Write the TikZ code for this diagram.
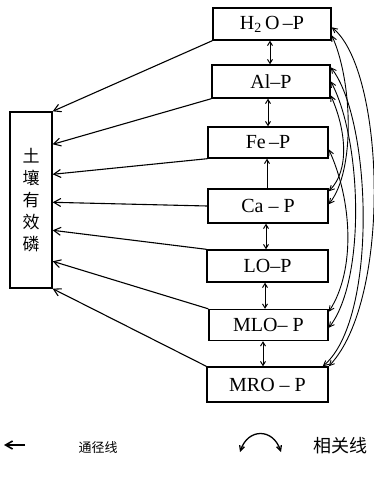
\documentclass[tikz,border=0pt]{standalone}
\usepackage{fontspec}
\newfontfamily\cjk{Noto Sans CJK SC}
\newfontfamily\tnr{Liberation Serif}
\usetikzlibrary{arrows.meta}
\begin{document}
\begin{tikzpicture}[x=1pt,y=-1pt,
  box/.style={draw,line width=1.4pt,inner sep=0pt,font=\tnr\fontsize{20}{22}\selectfont},
  link/.style={line width=1.1pt,-{Straight Barb[length=7pt,width=8pt]}},
  corr/.style={line width=0.9pt,{Straight Barb[length=5pt,width=5pt]}-{Straight Barb[length=5pt,width=5pt]}},
  vlink/.style={line width=1pt,{Straight Barb[length=4pt,width=5pt]}-{Straight Barb[length=4pt,width=5pt]}},
  uplink/.style={line width=1pt,-{Straight Barb[length=4pt,width=5pt]}},
  legend/.style={font=\cjk\fontsize{13}{15}\selectfont}]
\useasboundingbox (0,0) rectangle (373,482);

% right boxes
\node[box,minimum width=118pt,minimum height=32pt] (h) at (272,24) {H\textsubscript{2}\,O\,–P};
\node[box,minimum width=118pt,minimum height=33pt] (a) at (271,81.5) {Al–P};
\node[box,minimum width=120pt,minimum height=31pt] (f) at (268,142.5) {Fe\,–P};
\node[box,minimum width=120pt,minimum height=34pt] (c) at (268,206) {Ca – P};
\node[box,minimum width=121pt,minimum height=32pt] (l) at (267.5,266) {LO–P};
\node[box,minimum width=119pt,minimum height=31pt] (m) at (268.5,325) {MLO– P};
\node[box,minimum width=121pt,minimum height=35pt] (r) at (267.5,384.5) {MRO – P};

% left box
\node[draw,line width=1.4pt,minimum width=42pt,minimum height=176pt,inner sep=0pt,
      align=center,font=\cjk\fontsize{17}{22}\selectfont] (s) at (31,200)
      {土\\壤\\有\\效\\磷};

% path lines
\draw[link] (h.south west) -- (s.north east);
\draw[link] (a.south west) -- ([yshift=-33pt]s.north east);
\draw[link] (f.south west) -- ([yshift=-63pt]s.north east);
\draw[link] (c.west) -- ([yshift=-91pt]s.north east);
\draw[link] (l.north west) -- ([yshift=-119pt]s.north east);
\draw[link] (m.north west) -- ([yshift=-150pt]s.north east);
\draw[link] (r.north west) -- (s.south east);

% vertical links
\draw[vlink] ([xshift=-2pt]h.south) -- ([xshift=-2pt]h.south |- a.north);
\draw[vlink] ([xshift=-3pt]a.south) -- ([xshift=-3pt]a.south |- f.north);
\draw[uplink] ([xshift=-1pt]c.north) -- ([xshift=-1pt]c.north |- f.south);
\draw[vlink] ([xshift=-2pt]c.south) -- ([xshift=-2pt]c.south |- l.north);
\draw[vlink] ([xshift=-2.5pt]l.south) -- ([xshift=-2.5pt]l.south |- m.north);
\draw[vlink] ([xshift=-5.5pt]m.south) -- ([xshift=-5.5pt]m.south |- r.north);

% correlation lines
\draw[corr] ([yshift=-20pt]h.north east) .. controls (385,70) and (392,300) .. (r.north east);
\draw[corr] ([yshift=-28pt]h.north east) .. controls (352,80) and (356,170) .. ([yshift=-16pt]c.north east);
\draw[corr] ([yshift=-3pt]a.north east) .. controls (372,120) and (378,320) .. ([xshift=-6pt]r.north east);
\draw[corr] ([yshift=-17pt]a.north east) .. controls (362,140) and (366,280) .. ([yshift=-19pt]m.north east);
\draw[corr] ([yshift=-31pt]a.north east) .. controls (346,130) and (350,170) .. ([yshift=-3pt]c.north east);
\draw[corr] ([yshift=-23pt]f.north east) .. controls (352,200) and (356,270) .. ([yshift=-3pt]m.north east);

% legend
\coordinate (la) at (25,445);
\coordinate (lb) at (4,445);
\draw[line width=1.6pt,-{Straight Barb[length=7pt,width=8pt]}] (la) -- (lb);
\node[legend,anchor=west] (lt) at (75,448) {通径线};
\coordinate (ca) at (240,452);
\coordinate (cb) at (281,452);
\draw[corr,line width=1.3pt] (ca) .. controls (248,428) and (273,428) .. (cb);
\node[legend,anchor=west,font=\cjk\fontsize{18}{20}\selectfont] (ct) at (310,446) {相关线};
\end{tikzpicture}
\end{document}
